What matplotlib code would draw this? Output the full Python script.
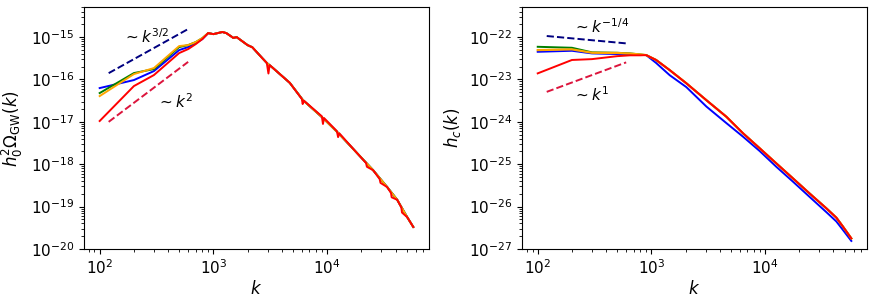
import numpy as np
import matplotlib
matplotlib.use("Agg")
import matplotlib.pyplot as plt

# ---- data (log10 values) ----
# left panel: h0^2 Omega_GW(k)
k_low_om = [100, 200, 300, 500, 600, 700, 800]
om_red_low = [-16.98, -16.156, -15.896, -15.377, -15.283, -15.165, -15.047]
om_blue_low = [-16.203, -16.014, -15.802, -15.307, -15.236, -15.142, -15.047]
om_green_low = [-16.321, -15.849, -15.755, -15.236, -15.189, -15.118, -15.024]
om_orange_low = [-16.392, -15.873, -15.731, -15.212, -15.189, -15.118, -15.024]

k_tail_om = [900, 1000, 1200, 1300, 1500, 1600, 2000, 2200, 2700, 2950, 3280,
             4700, 6150, 9200, 12500, 18400, 25400, 33800, 41400, 50700, 57300]
om_tail = [-14.906, -14.93, -14.88, -14.906, -15.02, -15.0, -15.19, -15.24, -15.50,
           -15.61, -15.71, -16.08, -16.49, -16.91, -17.26, -17.74, -18.14, -18.54,
           -18.84, -19.25, -19.48]

# red tail has a few narrow dips
k_tail_om_red = [900, 1000, 1200, 1300, 1500, 1600, 2000, 2200, 2700, 2950, 3050, 3120,
                 3280, 4700, 6000, 6100, 6250, 9000, 9200, 9400, 12200, 12500, 12800,
                 18400, 22000, 22400, 25400, 29000, 29500, 33800, 36500, 37000, 41400,
                 45000, 45600, 50700, 57300]
om_tail_red = [-14.906, -14.93, -14.88, -14.906, -15.02, -15.0, -15.19, -15.24, -15.50,
               -15.61, -15.86, -15.66, -15.71, -16.08, -16.46, -16.58, -16.50, -16.87,
               -17.05, -16.91, -17.22, -17.36, -17.27, -17.74, -17.97, -18.06, -18.14,
               -18.35, -18.44, -18.54, -18.68, -18.78, -18.84, -19.02, -19.14, -19.25,
               -19.48]

om_ref32_k = [120, 600]
om_ref32 = [1.41e-16, 1.55e-15]
om_ref2_k = [120, 600]
om_ref2 = [1.0e-17, 2.6e-16]

# right panel: h_c(k)
k_low_hc = [100, 200, 300, 500, 650, 800]
hc_green_low = [-22.229, -22.252, -22.36, -22.37, -22.385, -22.41]
hc_orange_low = [-22.307, -22.29, -22.37, -22.375, -22.39, -22.41]
hc_blue_low = [-22.347, -22.323, -22.385, -22.40, -22.41, -22.42]
hc_red_low = [-22.856, -22.54, -22.52, -22.45, -22.43, -22.43]

k_tail_hc = [900, 1100, 1450, 2030, 3050, 4570, 6400, 8980, 12560, 17580, 24640,
             34600, 42360, 48400, 57400]
hc_tail = [-22.425, -22.54, -22.78, -23.09, -23.49, -23.88, -24.27, -24.625, -24.98,
           -25.333, -25.69, -26.04, -26.26, -26.47, -26.75]
hc_blue_tail = [-22.425, -22.61, -22.90, -23.18, -23.64, -24.03, -24.35, -24.69, -25.06,
                -25.41, -25.77, -26.13, -26.35, -26.55, -26.81]

hc_ref14_k = [120, 600]
hc_ref14 = [1.06e-22, 7.1e-23]
hc_ref1_k = [120, 600]
hc_ref1 = [5.1e-24, 2.53e-23]


def series(k_low, v_low, k_tail, v_tail):
    return np.array(k_low + k_tail), 10.0 ** np.array(v_low + v_tail)


fs = 11
fig = plt.figure(figsize=(8.74, 3.02), dpi=100)
ax1 = fig.add_axes([0.0961, 0.1755, 0.3947, 0.801])
ax2 = fig.add_axes([0.5973, 0.1755, 0.3947, 0.801])

# left panel
for v_low, col in [(om_blue_low, 'blue'), (om_green_low, 'green'), (om_orange_low, 'orange')]:
    k, v = series(k_low_om, v_low, k_tail_om, om_tail)
    ax1.plot(k, v, color=col, lw=1.4)
k, v = series(k_low_om, om_red_low, k_tail_om_red, om_tail_red)
ax1.plot(k, v, color='red', lw=1.4)
ax1.plot(om_ref32_k, om_ref32, '--', color='navy', lw=1.4)
ax1.plot(om_ref2_k, om_ref2, '--', color='crimson', lw=1.4)
ax1.text(160, 1.0e-15, r'$\sim k^{3/2}$', fontsize=fs, va='center')
ax1.text(320, 2.95e-17, r'$\sim k^{2}$', fontsize=fs, va='center')
ax1.set_xscale('log')
ax1.set_yscale('log')
ax1.set_ylim(1e-20, 5.1e-15)
ax1.set_xlabel(r'$k$', fontsize=fs + 1, labelpad=2)
ax1.set_ylabel(r'$h_0^2\Omega_{\rm GW}(k)$', fontsize=fs + 1)

# right panel
k, v = series(k_low_hc, hc_blue_low, k_tail_hc, hc_blue_tail)
ax2.plot(k, v, color='blue', lw=1.4)
for v_low, col in [(hc_green_low, 'green'), (hc_orange_low, 'orange'), (hc_red_low, 'red')]:
    k, v = series(k_low_hc, v_low, k_tail_hc, hc_tail)
    ax2.plot(k, v, color=col, lw=1.6 if col == 'orange' else 1.4)
ax2.plot(hc_ref14_k, hc_ref14, '--', color='navy', lw=1.4)
ax2.plot(hc_ref1_k, hc_ref1, '--', color='crimson', lw=1.4)
ax2.text(205, 1.72e-22, r'$\sim k^{-1/4}$', fontsize=fs, va='center')
ax2.text(205, 4.28e-24, r'$\sim k^{1}$', fontsize=fs, va='center')
ax2.set_xscale('log')
ax2.set_yscale('log')
ax2.set_ylim(1e-27, 5.1e-22)
ax2.set_xlabel(r'$k$', fontsize=fs + 1, labelpad=2)
ax2.set_ylabel(r'$h_c(k)$', fontsize=fs + 1)

for ax in (ax1, ax2):
    ax.tick_params(labelsize=fs)

fig.savefig('out.png', dpi=100)
